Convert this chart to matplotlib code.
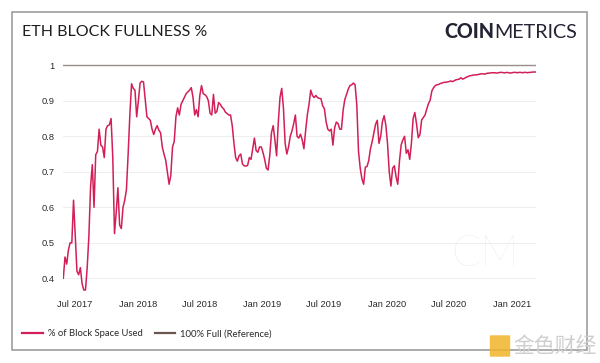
"""
eth block fullness chart
"""
import matplotlib
matplotlib.use('Agg')
import matplotlib.pyplot as plt
import matplotlib.dates as mdates
from matplotlib.lines import Line2D
from matplotlib.patches import Rectangle, FancyBboxPatch
import pandas as pd

# 5-day samples, starting 2017-05-28
start_date = '2017-05-28'
step = '5D'
block_fullness = [
    0.40, 0.46, 0.44, 0.48, 0.50, 0.50, 0.62, 0.52, 0.42, 0.41,
    0.43, 0.385, 0.367, 0.367, 0.43, 0.52, 0.66, 0.72, 0.60, 0.748,
    0.757, 0.82, 0.775, 0.77, 0.74, 0.82, 0.83, 0.832, 0.85, 0.74,
    0.526, 0.585, 0.655, 0.55, 0.54, 0.60, 0.62, 0.65, 0.75, 0.86,
    0.948, 0.935, 0.93, 0.855, 0.90, 0.95, 0.955, 0.953, 0.905, 0.855,
    0.85, 0.845, 0.82, 0.805, 0.82, 0.83, 0.817, 0.81, 0.77, 0.75,
    0.733, 0.70, 0.665, 0.69, 0.77, 0.785, 0.855, 0.88, 0.86, 0.89,
    0.90, 0.91, 0.92, 0.925, 0.93, 0.937, 0.91, 0.86, 0.875, 0.855,
    0.915, 0.943, 0.92, 0.917, 0.912, 0.90, 0.865, 0.86, 0.918, 0.865,
    0.87, 0.895, 0.89, 0.882, 0.877, 0.868, 0.864, 0.86, 0.86, 0.83,
    0.78, 0.74, 0.73, 0.745, 0.75, 0.722, 0.717, 0.716, 0.718, 0.74,
    0.735, 0.765, 0.795, 0.76, 0.755, 0.77, 0.77, 0.755, 0.735, 0.71,
    0.705, 0.747, 0.81, 0.83, 0.79, 0.745, 0.84, 0.91, 0.935, 0.88,
    0.78, 0.75, 0.77, 0.80, 0.815, 0.835, 0.86, 0.80, 0.795, 0.806,
    0.79, 0.765, 0.815, 0.86, 0.89, 0.93, 0.915, 0.909, 0.915, 0.909,
    0.907, 0.906, 0.886, 0.878, 0.841, 0.82, 0.815, 0.82, 0.775, 0.824,
    0.84, 0.836, 0.82, 0.82, 0.874, 0.904, 0.918, 0.933, 0.943, 0.945,
    0.95, 0.945, 0.888, 0.757, 0.71, 0.68, 0.665, 0.713, 0.715, 0.732,
    0.765, 0.785, 0.809, 0.834, 0.845, 0.78, 0.80, 0.841, 0.858, 0.832,
    0.78, 0.70, 0.66, 0.71, 0.717, 0.686, 0.665, 0.73, 0.776, 0.79,
    0.80, 0.752, 0.762, 0.735, 0.78, 0.85, 0.867, 0.835, 0.796, 0.805,
    0.846, 0.853, 0.86, 0.877, 0.892, 0.902, 0.928, 0.937, 0.943, 0.945,
    0.946, 0.949, 0.95, 0.952, 0.952, 0.953, 0.954, 0.956, 0.954, 0.956,
    0.959, 0.96, 0.961, 0.965, 0.961, 0.963, 0.966, 0.968, 0.97, 0.971,
    0.972, 0.973, 0.973, 0.974, 0.975, 0.976, 0.976, 0.975, 0.977, 0.978,
    0.978, 0.979, 0.979, 0.979, 0.978, 0.979, 0.98, 0.98, 0.979, 0.979,
    0.98, 0.979, 0.978, 0.979, 0.98, 0.98, 0.979, 0.98, 0.98, 0.979,
    0.98, 0.98, 0.979, 0.98, 0.98, 0.981, 0.981, 0.981,
]
reference_level = 1.0
y_ticks = [0.4, 0.5, 0.6, 0.7, 0.8, 0.9, 1.0]
y_tick_labels = ['0.4', '0.5', '0.6', '0.7', '0.8', '0.9', '1']
series_labels = ['% of Block Space Used', '100% Full (Reference)']

dates = pd.date_range(start_date, periods=len(block_fullness), freq=step)

line_color = '#d21f57'
ref_color = '#9a8f8d'
ref_legend_color = '#6b5550'

fig = plt.figure(figsize=(6, 3.63), dpi=100)
ax = fig.add_axes([0.1055, 0.1942, 0.7878, 0.6455])

ax.plot(dates, [reference_level] * len(dates), color=ref_color, lw=1.0, zorder=2)
ax.plot(dates, block_fullness, color=line_color, lw=1.1, zorder=3)

ax.set_xlim(dates[0], dates[-1])
ax.set_ylim(0.36, 1.02)
ax.set_yticks(y_ticks)
ax.set_yticklabels(y_tick_labels)
ax.xaxis.set_major_locator(mdates.MonthLocator(bymonth=[1, 7]))
ax.xaxis.set_major_formatter(mdates.DateFormatter('%b %Y'))

ax.grid(axis='y', color='#efefef', lw=0.8, zorder=0)
ax.grid(axis='x', visible=False)
for s in ax.spines.values():
    s.set_visible(False)
ax.tick_params(length=0, labelsize=6.7, colors='#2a2a2a')
ax.tick_params(axis='x', pad=5.5)
ax.tick_params(axis='y', pad=6.5)
for lab in ax.get_xticklabels() + ax.get_yticklabels():
    lab.set_fontfamily('Liberation Sans')

# CM watermark inside the plot
fig.text(485 / 600, 1 - 254 / 363, 'CM', fontsize=31, color='#e7e7f0',
         family='Lato', fontweight='light', ha='center', va='center', zorder=1)

# frame
fig.patches.append(Rectangle((12 / 600, 1 - 350 / 363), 575 / 600, 338 / 363,
                             transform=fig.transFigure, fill=False,
                             edgecolor='#9d9d9d', lw=1.2))

fig.text(22 / 600, 1 - 32 / 363, 'ETH BLOCK FULLNESS %', fontsize=11.5,
         family='Lato', color='#1e1e1e', va='center', ha='left')
metrics = fig.text(577 / 600, 1 - 32 / 363, 'METRICS', fontsize=14.2,
                   family='Lato', fontweight='normal', color='#232333',
                   va='center', ha='right')
ax.annotate('COIN', xy=(0, 0.5), xycoords=metrics, fontsize=14.2,
            family='Lato', fontweight='black', color='#232333',
            va='center', ha='right', annotation_clip=False)

handles = [Line2D([], [], color=line_color, lw=1.6),
           Line2D([], [], color=ref_legend_color, lw=1.6)]
fig.legend(handles, series_labels, loc='center left',
           bbox_to_anchor=(22 / 600, 1 - 334 / 363), ncol=2, frameon=False,
           prop={'family': 'Lato', 'size': 6.8}, handlelength=2.2,
           handletextpad=0.5, columnspacing=1.3, borderpad=0,
           borderaxespad=0, labelcolor='#2a2a2a')

# site watermark bottom right
fig.patches.append(FancyBboxPatch((491 / 600, 1 - 356 / 363), 18 / 600, 20 / 363,
                                  boxstyle='round,pad=0.002',
                                  transform=fig.transFigure,
                                  facecolor='#f0b429', edgecolor='none',
                                  alpha=0.85))
fig.text(555 / 600, 1 - 346 / 363, '金色财经', fontsize=15,
         family=['Noto Sans CJK SC', 'DejaVu Sans'], color='#cfcfcf',
         ha='center', va='center')

plt.savefig('out.png', dpi=100)
